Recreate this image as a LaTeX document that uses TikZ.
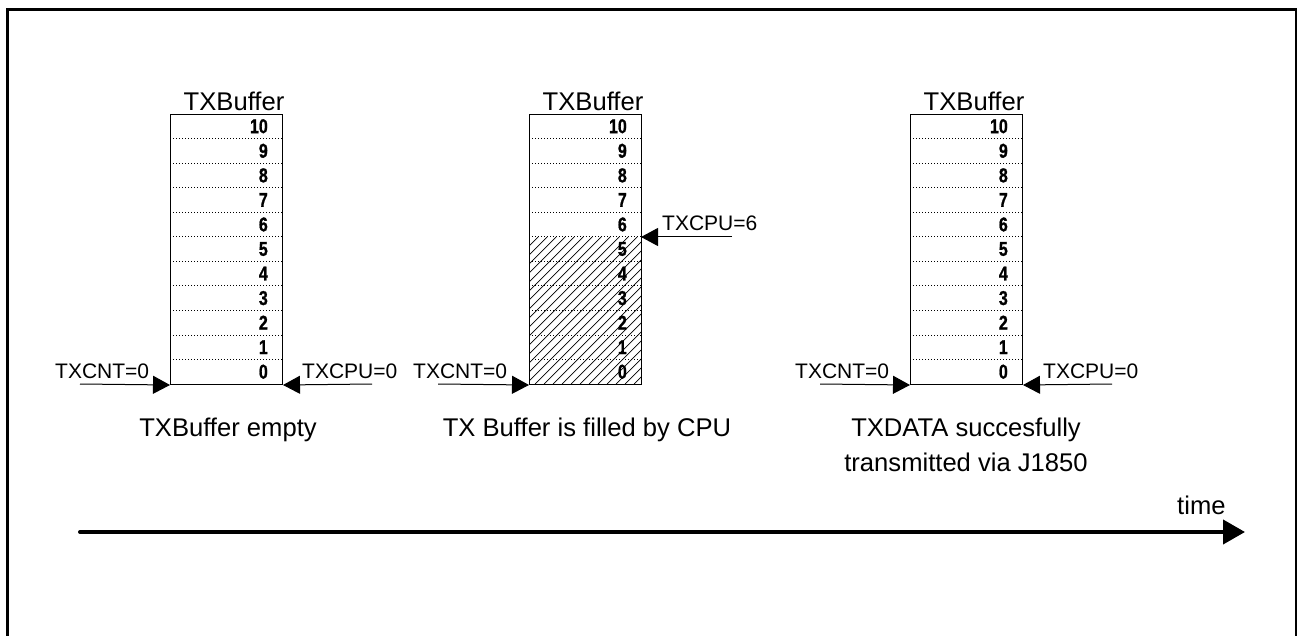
\documentclass[tikz,border=0pt]{standalone}
\usepackage{fontspec}
\setmainfont{Liberation Sans}
\newfontfamily\numfont[FakeBold=1.2]{Liberation Sans Bold}
\usetikzlibrary{arrows.meta}
\newcommand{\narrowdigit}[1]{\scalebox{0.8}[1]{#1}}
\begin{document}
\begin{tikzpicture}[x=1pt,y=-1pt,
  buf/.style={draw, line width=1pt, minimum width=112pt, minimum height=270pt, inner sep=0pt, anchor=north west},
  sep/.style={line width=0.8pt, dash pattern=on 1.2pt off 1.8pt},
  num/.style={anchor=east, inner sep=0pt, font=\numfont\fontsize{20}{20}\selectfont},
  ttl/.style={anchor=base, inner sep=0pt, font=\fontsize{25.6}{30}\selectfont},
  lbl/.style={anchor=base west, inner sep=0pt, font=\fontsize{21}{24}\selectfont},
  ptr/.style={line width=1pt, -{Triangle[length=17pt,width=18pt]}},
  timeline/.style={line width=4pt, line cap=round, -{Triangle[length=22pt,width=24pt]}},
  hatch/.style={line width=0.7pt},
  frame/.style={line width=2.2pt},
]
\clip (0,0) rectangle (1297,636);
\draw[frame] (7.5,9.5) rectangle (1296.5,700);

% hatching in buffer 2 (slots 0..5)
\begin{scope}
  \clip (529,237) rectangle (641,384);
  \foreach \c in {766,775,...,1030}
    \draw[hatch] ({\c-384},384) -- ({\c-237},237);
\end{scope}

% buffers
\foreach \n/\x in {1/170,2/529,3/910}{
  \node[buf] (b\n) at (\x,114) {};
  \foreach \k in {1,...,10}
    \draw[sep] (\x,{114+\k*24.545}) -- ({\x+112},{114+\k*24.545});
  \foreach \i in {0,...,10}
    \node[num] (n\n-\i) at ({\x+112-14},{114+(10-\i+0.5)*24.545}) {\narrowdigit{\i}};
  \node[ttl] (t\n) at ({\x+56+8},111) {TXBuffer};
}

% pointers buffer 1
\coordinate (c1) at (80,384);
\coordinate (p1) at (372,384);
\draw[ptr] (c1) -- (b1.south west);
\draw[ptr] (p1) -- (b1.south east);
\node[lbl] (lc1) at (55,378) {TXCNT=0};
\node[lbl] (lp1) at (302,378) {TXCPU=0};

% pointers buffer 2
\coordinate (c2) at (438,384);
\coordinate (p2) at (732,237);
\coordinate (b2six) at (641,237);
\draw[ptr] (c2) -- (b2.south west);
\draw[ptr] (p2) -- (b2six);
\node[lbl] (lc2) at (413,378) {TXCNT=0};
\node[lbl] (lp2) at (662,231) {TXCPU=6};

% pointers buffer 3
\coordinate (c3) at (820,384);
\coordinate (p3) at (1112,384);
\draw[ptr] (c3) -- (b3.south west);
\draw[ptr] (p3) -- (b3.south east);
\node[lbl] (lc3) at (795,378) {TXCNT=0};
\node[lbl] (lp3) at (1043,378) {TXCPU=0};

% captions
\node[ttl] (cap1) at (228,436) {TXBuffer empty};
\node[ttl] (cap2) at (587,436) {TX Buffer is filled by CPU};
\node[ttl] (cap3a) at (966,436) {TXDATA succesfully};
\node[ttl] (cap3b) at (966,471) {transmitted via J1850};

% time axis
\coordinate (t0) at (80,532);
\coordinate (t1) at (1245,532);
\draw[timeline] (t0) -- (t1);
\node[lbl, font=\fontsize{25.6}{30}\selectfont] (time) at (1177,514) {time};
\end{tikzpicture}
\end{document}
